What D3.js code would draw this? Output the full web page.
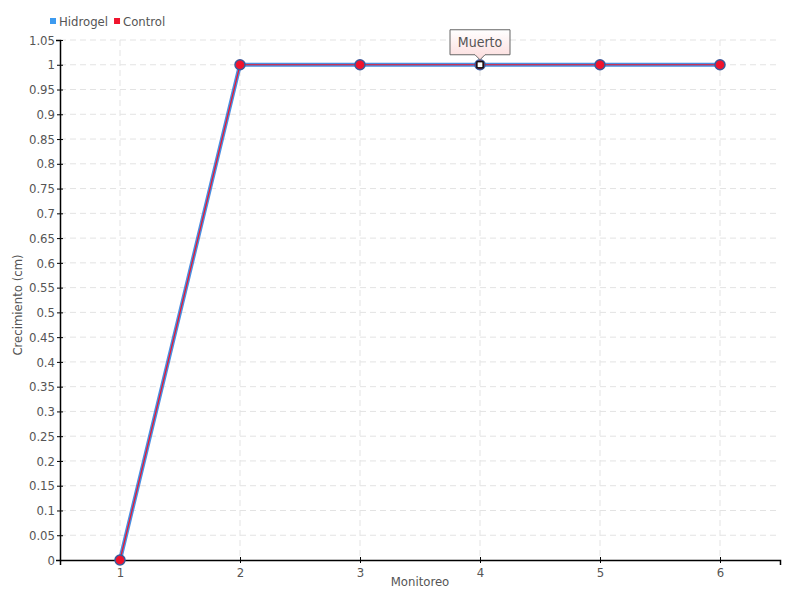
<!DOCTYPE html>
<html>
<head>
<meta charset="utf-8">
<script src="https://cdn.jsdelivr.net/npm/d3@7"></script>
<style>
  body { margin: 0; background: #fff; }
  text { font-family: "DejaVu Sans Condensed", "DejaVu Sans", sans-serif; fill: #555; }
</style>
</head>
<body>
<svg id="chart" width="800" height="600"></svg>
<script>
// data
const monitoreo = [1, 2, 3, 4, 5, 6];
const hidrogel = [0, 1, 1, 1, 1, 1];
const control = [0, 1, 1, 1, 1, 1];
const yTicks = d3.range(0, 22).map(i => +(i * 0.05).toFixed(2));
const seriesNames = ["Hidrogel", "Control"];
const seriesColors = ["#4a90e2", "#f0142d"];
const muertoIndex = 3; // annotation on point 4

const width = 800, height = 600;
const margin = { top: 40, right: 20, bottom: 40, left: 60 };

const svg = d3.select("#chart");

const x = d3.scaleLinear()
  .domain([0.5, 6.5])
  .range([margin.left, width - margin.right]);

const y = d3.scaleLinear()
  .domain([0, 1.05])
  .range([height - margin.bottom, margin.top]);

function translate(a, b) {
  return "translate(" + a + "," + b + ")";
}

// grid
const grid = svg.append("g").attr("class", "grid");
grid.selectAll("line.h")
  .data(yTicks.filter(d => d > 0))
  .join("line")
  .attr("x1", margin.left).attr("x2", width - margin.right)
  .attr("y1", d => y(d)).attr("y2", d => y(d))
  .attr("stroke", "#e3e3e3").attr("stroke-dasharray", "6,4");
grid.selectAll("line.v")
  .data(monitoreo)
  .join("line")
  .attr("x1", d => x(d)).attr("x2", d => x(d))
  .attr("y1", margin.top).attr("y2", height - margin.bottom)
  .attr("stroke", "#e3e3e3").attr("stroke-dasharray", "6,4");

// axes
const xAxis = svg.append("g")
  .attr("transform", translate(0, height - margin.bottom))
  .call(d3.axisBottom(x).tickValues(monitoreo).tickSizeOuter(0).tickSize(5).tickPadding(3).tickFormat(d3.format("d")));
xAxis.select(".domain").attr("stroke", "#000").attr("stroke-width", 1.5);
xAxis.selectAll(".tick line").attr("stroke", "#000").attr("y1", -3).attr("y2", 3);
xAxis.selectAll("text").style("font-size", "13px").attr("fill", "#555");

const yAxis = svg.append("g")
  .attr("transform", translate(margin.left, 0))
  .call(d3.axisLeft(y).tickValues(yTicks).tickSizeOuter(0).tickSize(4).tickPadding(1)
    .tickFormat(d => d3.format("~g")(d)));
yAxis.select(".domain").attr("stroke", "#000").attr("stroke-width", 1.5);
yAxis.selectAll(".tick line").attr("stroke", "#000").attr("x1", -3).attr("x2", 3);
yAxis.selectAll("text").style("font-size", "13px").attr("fill", "#555");

// axis titles
svg.append("text")
  .attr("x", (margin.left + width - margin.right) / 2)
  .attr("y", height - 14)
  .attr("text-anchor", "middle")
  .style("font-size", "13px")
  .text("Monitoreo");

svg.append("text")
  .attr("transform", translate(22, (margin.top + height - margin.bottom) / 2 + 5) + " rotate(-90)")
  .attr("text-anchor", "middle")
  .style("font-size", "13px")
  .text("Crecimiento (cm)");

// lines
const line = d3.line().x((d, i) => x(monitoreo[i])).y(d => y(d));

svg.append("path")
  .datum(hidrogel)
  .attr("d", line)
  .attr("fill", "none")
  .attr("stroke", seriesColors[0])
  .attr("stroke-width", 4);

svg.append("path")
  .datum(control)
  .attr("d", line)
  .attr("fill", "none")
  .attr("stroke", seriesColors[1])
  .attr("stroke-width", 1.2);

// points
svg.append("g")
  .selectAll("circle")
  .data(control)
  .join("circle")
  .attr("cx", (d, i) => x(monitoreo[i]))
  .attr("cy", d => y(d))
  .attr("r", 5)
  .attr("fill", "#f0142d")
  .attr("stroke", "#3a5a9a")
  .attr("stroke-width", 1.5)
  .style("display", (d, i) => i == muertoIndex ? "none" : null);

// muerto marker
const mx = x(monitoreo[muertoIndex]), my = y(control[muertoIndex]);
svg.append("circle")
  .attr("cx", mx).attr("cy", my).attr("r", 5)
  .attr("fill", "#8a1020").attr("stroke", "#3a5a9a").attr("stroke-width", 1.5);
svg.append("rect")
  .attr("x", mx - 3).attr("y", my - 3).attr("width", 6).attr("height", 6)
  .attr("fill", "#fff").attr("stroke", "#000").attr("stroke-width", 1.2);

// tooltip
const defs = svg.append("defs");
const grad = defs.append("linearGradient").attr("id", "tipGrad")
  .attr("x1", 0).attr("y1", 0).attr("x2", 0).attr("y2", 1);
grad.append("stop").attr("offset", "0%").attr("stop-color", "#fff");
grad.append("stop").attr("offset", "100%").attr("stop-color", "#fcdcdc");

const tw = 60, th = 25, ty = my - 35;
svg.append("path")
  .attr("d", "M" + (mx - tw / 2) + "," + ty +
    " h" + tw + " v" + th + " h" + -(tw / 2 - 5) + " l-5,5 l-5,-5 h" + -(tw / 2 - 5) + " Z")
  .attr("fill", "url(#tipGrad)")
  .attr("stroke", "#666")
  .attr("stroke-width", 1);
svg.append("text")
  .attr("x", mx).attr("y", ty + 17)
  .attr("text-anchor", "middle")
  .style("font-size", "14px")
  .text("Muerto");

// legend
const legend = svg.append("g").attr("transform", translate(50, 21));
let lx = 0;
seriesNames.forEach(function(name, i) {
  const g = legend.append("g").attr("transform", translate(lx, 0));
  g.append("rect").attr("x", 0).attr("y", -3).attr("width", 6).attr("height", 6)
    .attr("fill", i == 0 ? "#3d9bf0" : seriesColors[1]);
  const t = g.append("text").attr("x", 9).attr("y", 5).style("font-size", "13px").text(name);
  lx += 9 + t.node().getComputedTextLength() + 6;
});
</script>
</body>
</html>
